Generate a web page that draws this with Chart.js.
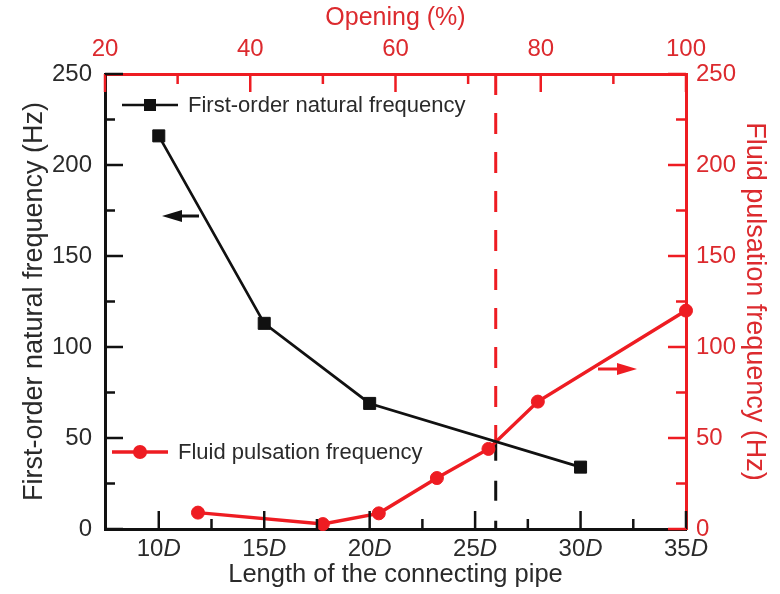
<!DOCTYPE html>
<html>
<head>
<meta charset="utf-8">
<script src="https://cdn.jsdelivr.net/npm/chart.js@4.4.1/dist/chart.umd.min.js"></script>
<style>
    html, body { margin: 0; padding: 0; background: #fff; }
    #contenedor { width: 780px; height: 594px; }
</style>
</head>
<body>
<div id="contenedor"><canvas id="grafico" width="780" height="594"></canvas></div>
<script>
// Serie negra: frecuencia natural de primer orden según longitud del tubo (en D)
const longitudes = [10, 15, 20, 30];
const frecNatural = [216, 113, 69, 34];

// Serie roja: frecuencia de pulsación del fluido según apertura (%)
const aperturas = [32.8, 50, 57.7, 65.7, 72.8, 79.6, 100];
const frecPulsacion = [9, 2.7, 8.6, 28, 44, 70, 120];

// Etiquetas de los ejes
const ticksLongitud = [10, 15, 20, 25, 30, 35];
const ticksApertura = [20, 40, 60, 80, 100];
const ticksFrecuencia = [0, 50, 100, 150, 200, 250];

// Línea discontinua vertical (apertura %) y valor donde se cruzan las curvas
const aperturaMarca = 73.8;
const frecCruce = 48.5;

const ROJO = '#ee1c22';
const ROJO_TEXTO = '#dc2a2e';
const NEGRO = '#111111';
const TEXTO = '#2a2a2a';
const FUENTE = '"Liberation Sans", Arial, sans-serif';

// Puntos intermedios entre marcas principales (marcas menores)
function intermedios(valores) {
    const res = [];
    for (let i = 0; i < valores.length - 1; i++) {
        res.push((valores[i] + valores[i + 1]) / 2);
    }
    return res;
}

// Dibuja marcas hacia dentro del área del gráfico
function marcasEje(ctx, escala, valores, largo, color, lado) {
    const a = escala.chart.chartArea;
    ctx.save();
    ctx.strokeStyle = color;
    ctx.lineWidth = 2.5;
    valores.forEach(v => {
        const p = escala.getPixelForValue(v);
        ctx.beginPath();
        if (lado === 'bottom') { ctx.moveTo(p, a.bottom); ctx.lineTo(p, a.bottom - largo); }
        else if (lado === 'top') { ctx.moveTo(p, a.top); ctx.lineTo(p, a.top + largo); }
        else if (lado === 'left') { ctx.moveTo(a.left, p); ctx.lineTo(a.left + largo, p); }
        else { ctx.moveTo(a.right, p); ctx.lineTo(a.right - largo, p); }
        ctx.stroke();
    });
    ctx.restore();
}

function entradaLeyenda(ctx, x, y, color, forma, texto) {
    ctx.save();
    ctx.strokeStyle = color;
    ctx.lineWidth = forma === 'rect' ? 2.7 : 3.5;
    ctx.beginPath();
    ctx.moveTo(x, y);
    ctx.lineTo(x + 56, y);
    ctx.stroke();
    ctx.fillStyle = color;
    if (forma === 'rect') {
        ctx.fillRect(x + 22, y - 6, 12, 12);
    } else {
        ctx.beginPath();
        ctx.arc(x + 28, y, 7, 0, Math.PI * 2);
        ctx.fill();
    }
    ctx.fillStyle = TEXTO;
    ctx.font = '22px ' + FUENTE;
    ctx.textBaseline = 'middle';
    ctx.fillText(texto, x + 66, y + 1);
    ctx.restore();
}

// Flecha horizontal de la cola (x1) a la punta (x2)
function flecha(ctx, x1, x2, y, color) {
    const dir = Math.sign(x2 - x1);
    ctx.save();
    ctx.strokeStyle = color;
    ctx.fillStyle = color;
    ctx.lineWidth = 3;
    ctx.beginPath();
    ctx.moveTo(x1, y);
    ctx.lineTo(x2 - dir * 14, y);
    ctx.stroke();
    ctx.beginPath();
    ctx.moveTo(x2, y);
    ctx.lineTo(x2 - dir * 20, y - 6);
    ctx.lineTo(x2 - dir * 20, y + 6);
    ctx.closePath();
    ctx.fill();
    ctx.restore();
}

const pluginDecoracion = {
    id: 'decoracion',
    beforeDatasetsDraw(chart) {
        const ctx = chart.ctx;
        const a = chart.chartArea;
        const px = chart.scales.x2.getPixelForValue(aperturaMarca);
        const pc = chart.scales.y2.getPixelForValue(frecCruce);
        ctx.save();
        ctx.lineWidth = 3;
        ctx.setLineDash([21, 18]);
        ctx.strokeStyle = ROJO;
        ctx.beginPath();
        ctx.moveTo(px, a.top);
        ctx.lineTo(px, pc);
        ctx.stroke();
        ctx.setLineDash([20, 20]);
        ctx.strokeStyle = NEGRO;
        ctx.beginPath();
        ctx.moveTo(px, pc);
        ctx.lineTo(px, a.bottom);
        ctx.stroke();
        ctx.restore();
    },
    afterDraw(chart) {
        const ctx = chart.ctx;
        const a = chart.chartArea;
        const { x, x2, y, y2 } = chart.scales;

        marcasEje(ctx, x, ticksLongitud, 18, NEGRO, 'bottom');
        marcasEje(ctx, x, intermedios(ticksLongitud), 10, NEGRO, 'bottom');
        marcasEje(ctx, x2, ticksApertura, 18, ROJO, 'top');
        marcasEje(ctx, x2, intermedios(ticksApertura), 10, ROJO, 'top');
        marcasEje(ctx, y, ticksFrecuencia, 18, NEGRO, 'left');
        marcasEje(ctx, y, intermedios(ticksFrecuencia), 10, NEGRO, 'left');
        marcasEje(ctx, y2, ticksFrecuencia, 18, ROJO, 'right');
        marcasEje(ctx, y2, intermedios(ticksFrecuencia), 10, ROJO, 'right');

        // Etiquetas del eje inferior: número normal + "D" en cursiva
        ctx.save();
        ctx.fillStyle = TEXTO;
        ctx.textBaseline = 'middle';
        ctx.textAlign = 'left';
        ticksLongitud.forEach(v => {
            const p = x.getPixelForValue(v);
            ctx.font = '24px ' + FUENTE;
            const w1 = ctx.measureText(String(v)).width;
            ctx.font = 'italic 24px ' + FUENTE;
            const w2 = ctx.measureText('D').width;
            const x0 = p - (w1 + w2) / 2;
            ctx.font = '24px ' + FUENTE;
            ctx.fillText(String(v), x0, a.bottom + 20);
            ctx.font = 'italic 24px ' + FUENTE;
            ctx.fillText('D', x0 + w1, a.bottom + 20);
        });
        ctx.restore();

        entradaLeyenda(ctx, 122, 105, NEGRO, 'rect', 'First-order natural frequency');
        entradaLeyenda(ctx, 112, 452, ROJO, 'circle', 'Fluid pulsation frequency');

        flecha(ctx, 199, 162, 216, NEGRO);
        flecha(ctx, 598, 637, 369, ROJO);
    }
};

function fijarTicks(valores) {
    return escala => { escala.ticks = valores.map(v => ({ value: v })); };
}

new Chart(document.getElementById('grafico'), {
    type: 'scatter',
    data: {
        datasets: [
            {
                label: 'Fluid pulsation frequency',
                data: aperturas.map((v, i) => ({ x: v, y: frecPulsacion[i] })),
                xAxisID: 'x2',
                yAxisID: 'y2',
                showLine: true,
                borderColor: ROJO,
                backgroundColor: ROJO,
                borderWidth: 3.5,
                pointStyle: 'circle',
                pointRadius: 6.5,
                pointBorderWidth: 1,
                tension: 0,
                clip: false,
                order: 2
            },
            {
                label: 'First-order natural frequency',
                data: longitudes.map((v, i) => ({ x: v, y: frecNatural[i] })),
                xAxisID: 'x',
                yAxisID: 'y',
                showLine: true,
                borderColor: NEGRO,
                backgroundColor: NEGRO,
                borderWidth: 2.7,
                pointStyle: 'rect',
                pointRadius: 8.5,
                pointBorderWidth: 1,
                tension: 0,
                clip: false,
                order: 1
            }
        ]
    },
    options: {
        responsive: false,
        animation: false,
        devicePixelRatio: 1,
        layout: { padding: 0, autoPadding: false },
        plugins: { legend: { display: false }, tooltip: { enabled: false } },
        scales: {
            x: {
                type: 'linear',
                position: 'bottom',
                min: 7.45,
                max: 35,
                grid: { display: false, drawTicks: false },
                border: { color: NEGRO, width: 3 },
                ticks: { display: false },
                title: {
                    display: true,
                    text: 'Length of the connecting pipe',
                    color: TEXTO,
                    font: { family: FUENTE, size: 25.5 },
                    padding: { top: 0, bottom: 4 }
                },
                afterFit: s => { s.height = 65; }
            },
            x2: {
                type: 'linear',
                position: 'top',
                min: 20,
                max: 100,
                grid: { display: false, drawTicks: false },
                border: { color: ROJO, width: 3 },
                afterBuildTicks: fijarTicks(ticksApertura),
                ticks: { color: ROJO_TEXTO, font: { family: FUENTE, size: 24 }, padding: 10, maxRotation: 0 },
                title: {
                    display: true,
                    text: 'Opening (%)',
                    color: ROJO_TEXTO,
                    font: { family: FUENTE, size: 25 },
                    padding: { top: 3, bottom: 0 }
                },
                afterFit: s => { s.height = 74; }
            },
            y: {
                type: 'linear',
                position: 'left',
                min: 0,
                max: 250,
                grid: { display: false, drawTicks: false },
                border: { color: NEGRO, width: 3 },
                afterBuildTicks: fijarTicks(ticksFrecuencia),
                ticks: { color: TEXTO, font: { family: FUENTE, size: 24 }, padding: 13 },
                title: {
                    display: true,
                    text: 'First-order natural frequency (Hz)',
                    color: TEXTO,
                    font: { family: FUENTE, size: 27 },
                    padding: { top: 18, bottom: 0 }
                },
                afterFit: s => { s.width = 105; }
            },
            y2: {
                type: 'linear',
                position: 'right',
                min: 0,
                max: 250,
                grid: { display: false, drawTicks: false },
                border: { color: ROJO, width: 3 },
                afterBuildTicks: fijarTicks(ticksFrecuencia),
                ticks: { color: ROJO_TEXTO, font: { family: FUENTE, size: 24 }, padding: 10 },
                title: {
                    display: true,
                    text: 'Fluid pulsation frequency (Hz)',
                    color: ROJO_TEXTO,
                    font: { family: FUENTE, size: 27 },
                    padding: { top: 9, bottom: 0 }
                },
                afterFit: s => { s.width = 94; }
            }
        }
    },
    plugins: [pluginDecoracion]
});
</script>
</body>
</html>
